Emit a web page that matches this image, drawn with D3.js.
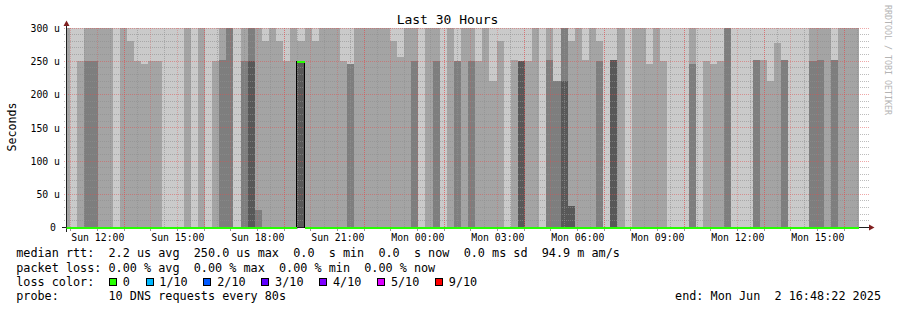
<!DOCTYPE html>
<html lang="en">
<head>
<meta charset="UTF-8">
<script src="https://cdn.jsdelivr.net/npm/d3@7"></script>
<title>Last 30 Hours</title>
<style>
  body { margin: 0; background: #fff; }
  text { font-family: "DejaVu Sans Mono", monospace; white-space: pre; fill: #000; }
</style>
</head>
<body>
<div id="chart"></div>
<script>
// time window
var tEnd = new Date(2025, 5, 2, 16, 48, 22);
var tStart = new Date(tEnd.getTime() - 30 * 3600 * 1000);
var firstStep = new Date(2025, 5, 1, 10, 41, 0);   // start of first (clipped) step
var stepSec = 960;

// sorted ping ranks per step (microseconds, axis clipped at 300)
var ping10 = [300,300,300,300,300,300,300,300,300,300,
              300,300,300,300,300,300,300,300,300,300,
              300,300,300,300,300,300,300,300,300,300,
              300,300,300,300,300,300,300,300,300,300,
              300,300,300,300,300,300,300,300,300,300,
              300,300,300,300,300,300,300,300,300,300,
              300,300,300,300,300,300,300,300,300,300,
              300,300,300,300,300,300,300,300,300,300,
              300,300,300,300,300,300,300,300,300,300,
              300,300,300,300,300,300,300,300,300,300,
              300,300,300,300,300,300,300,300,300,300,
              300,300];
var ping9 = [300,0,250,300,300,300,300,0,300,281,
             250,246,250,250,0,0,0,300,0,300,
             0,250,300,300,0,300,300,300,281,300,
             281,250,300,281,300,281,300,300,300,250,
             246,300,300,300,300,300,281,257,300,300,
             0,300,300,0,300,250,300,300,250,300,
             220,281,0,252,250,250,300,0,300,220,
             300,281,300,252,300,281,0,252,300,0,
             300,300,246,300,250,0,0,0,300,0,
             250,246,250,300,0,0,0,252,252,220,
             277,252,0,0,0,300,300,300,252,300,
             300,300];
var ping8 = [0,0,0,250,250,0,0,0,0,0,
             0,0,0,0,0,0,0,0,0,0,
             0,0,252,300,0,250,300,27,0,0,
             0,0,0,250,0,0,0,0,0,0,
             246,0,0,0,0,0,0,0,0,250,
             0,0,250,0,0,250,0,250,0,0,
             0,0,0,0,250,0,0,0,252,220,
             300,32,0,0,0,250,0,252,0,0,
             0,0,0,0,0,0,0,0,246,0,
             0,0,0,300,0,0,0,252,0,0,
             0,252,0,0,0,250,252,0,252,0,
             0,0];
var ping7 = [0,0,0,0,0,0,0,0,0,0,
             0,0,0,0,0,0,0,0,0,0,
             0,0,0,0,0,0,250,0,0,0,
             0,0,0,250,0,0,0,0,0,0,
             0,0,0,0,0,0,0,0,0,0,
             0,0,0,0,0,0,0,0,0,0,
             0,0,0,0,250,0,0,0,0,0,
             220,32,0,0,0,0,0,252,0,0,
             0,0,0,0,0,0,0,0,0,0,
             0,0,0,0,0,0,0,0,0,0,
             0,0,0,0,0,0,0,0,0,0,
             0,0];
var median = [0,0,0,0,0,0,0,0,0,0,
              0,0,0,0,0,0,0,0,0,0,
              0,0,0,0,0,0,0,0,0,0,
              0,0,0,250,0,0,0,0,0,0,
              0,0,0,0,0,0,0,0,0,0,
              0,0,0,0,0,0,0,0,0,0,
              0,0,0,0,0,0,0,0,0,0,
              0,0,0,0,0,0,0,0,0,0,
              0,0,0,0,0,0,0,0,0,0,
              0,0,0,0,0,0,0,0,0,0,
              0,0,0,0,0,0,0,0,0,0,
              0,0];
var lossCount = median.map(function () { return 0; }); // no loss anywhere

var yTickValues = [0, 50, 100, 150, 200, 250, 300];
var yTickLabels = ["0", "50 u", "100 u", "150 u", "200 u", "250 u", "300 u"];

var lossLabels = ["0", "1/10", "2/10", "3/10", "4/10", "5/10", "9/10"];
var lossColors = ["#26ff00", "#00b8ff", "#0059ff", "#5e00ff", "#7e00ff", "#dd00ff", "#ff0000"];
var lossLevels = [0, 1, 2, 3, 4, 5, 9];

var legendLines = [
  "median rtt:  2.2 us avg  250.0 us max  0.0  s min  0.0  s now  0.0 ms sd  94.9 m am/s",
  "packet loss: 0.00 % avg  0.00 % max  0.00 % min  0.00 % now",
  "loss color:",
  "probe:       10 DNS requests every 80s"
];
var endLabel = "end: Mon Jun  2 16:48:22 2025";

// ---------------------------------------------------------------
var W = 897, H = 310;
var x0 = 66, x1 = 866, yBot = 227.5, yTop = 28;

var svg = d3.select("#chart").append("svg")
  .attr("width", W).attr("height", H);

var x = d3.scaleTime().domain([tStart, tEnd]).range([x0, x1]);
var y = d3.scaleLinear().domain([0, 300]).range([yBot, yTop]);

var cols = ping10.map(function (d, i) {
  var t0 = new Date(firstStep.getTime() + i * stepSec * 1000);
  var t1 = new Date(t0.getTime() + stepSec * 1000);
  return { t0: t0, t1: t1, tops: [ping10[i], ping9[i], ping8[i], ping7[i]],
           median: median[i], loss: lossCount[i] };
});

svg.append("defs").append("clipPath").attr("id", "plot")
  .append("rect").attr("x", x0 + 0.5).attr("y", yTop).attr("width", x1 - x0).attr("height", 201);

// smoke: bands get darker towards the median
var smokeColor = [202, 164, 126, 88].map(function (c) { return d3.rgb(c, c, c).toString(); });
var smoke = svg.append("g").attr("clip-path", "url(#plot)").attr("shape-rendering", "crispEdges");
smokeColor.forEach(function (c, b) {
  smoke.append("g").selectAll("rect")
    .data(cols.filter(function (d) { return d.tops[b] > 0; }))
    .enter().append("rect")
      .attr("x", function (d) { return Math.round(x(d.t0)); })
      .attr("width", function (d) { return Math.round(x(d.t1)) - Math.round(x(d.t0)); })
      .attr("y", function (d) { return y(d.tops[b]); })
      .attr("height", function (d) { return 228 - y(d.tops[b]); })
      .attr("fill", c);
});

// grid
var gridMinor = "rgba(143,143,143,0.6)", gridMajor = "rgba(222,79,79,0.35)", gridStrong = "rgba(222,79,79,0.7)";
var grid = svg.append("g").attr("shape-rendering", "crispEdges");
var py = function (v) { return Math.floor(y(v)) + 0.5; };
var px = function (t) { return Math.round(x(t)) - 0.5; };

var minorY = d3.range(10, 300, 10).filter(function (v) { return v % 50; });
grid.selectAll(".hmin").data(minorY).enter().append("line")
  .attr("x1", x0 - 2).attr("x2", x1 + 3).attr("y1", py).attr("y2", py)
  .attr("stroke", gridMinor).attr("stroke-dasharray", "1,1");
grid.selectAll(".hmaj").data(yTickValues.slice(1)).enter().append("line")
  .attr("x1", x0 - 2).attr("x2", x1 + 3).attr("y1", py).attr("y2", py)
  .attr("stroke", "rgba(222,79,79,0.5)").attr("stroke-dasharray", "1,1");

var hours = d3.timeHour.every(1).range(tStart, tEnd);
var halfHours = d3.timeMinute.every(30).range(tStart, tEnd).filter(function (t) { return t.getMinutes() === 30; });
grid.selectAll(".vmin").data(halfHours).enter().append("line")
  .attr("x1", px).attr("x2", px).attr("y1", yTop).attr("y2", 230)
  .attr("stroke", gridMinor).attr("stroke-dasharray", "1,1");
grid.selectAll(".vmaj").data(hours).enter().append("line")
  .attr("x1", px).attr("x2", px).attr("y1", yTop).attr("y2", 231)
  .attr("stroke", function (t) { return t.getHours() % 3 === 1 ? gridStrong : gridMajor; })
  .attr("stroke-dasharray", "1,1");
// solid tick stubs outside the canvas
grid.selectAll(".tk").data(hours).enter().append("line")
  .attr("x1", px).attr("x2", px).attr("y1", 228).attr("y2", 231)
  .attr("stroke", "#999");

// axes
var axis = svg.append("g").attr("shape-rendering", "crispEdges");
axis.append("line").attr("x1", 62).attr("x2", 870).attr("y1", 227.5).attr("y2", 227.5).attr("stroke", "#1f1f1f");
axis.append("line").attr("x1", 66.5).attr("x2", 66.5).attr("y1", 232).attr("y2", 25).attr("stroke", "#1f1f1f");
svg.append("path").attr("d", "M63.5,26 L66.5,20.5 L69.5,26 Z").attr("fill", "#801f1f");
svg.append("path").attr("d", "M869,224.5 L874.5,227.5 L869,230.5 Z").attr("fill", "#801f1f");

// median line: dark step line, loss-coloured segments on top
var medLine = d3.line()
  .x(function (d) { return Math.round(x(d.t)) - 0.5; })
  .y(function (d) { return Math.floor(y(d.v)) + 0.5; })
  .curve(d3.curveStepAfter);
var medPts = cols.map(function (d) { return { t: d.t0, v: d.median }; });
medPts.push({ t: cols[cols.length - 1].t1, v: cols[cols.length - 1].median });
svg.append("g").attr("clip-path", "url(#plot)").append("path")
  .attr("d", medLine(medPts)).attr("fill", "none").attr("stroke", "#000")
  .attr("stroke-width", 1).attr("shape-rendering", "crispEdges");

var lossColor = function (n) {
  for (var k = 0; k < lossLevels.length; k++) if (n <= lossLevels[k]) return lossColors[k];
  return lossColors[lossColors.length - 1];
};
svg.append("g").attr("clip-path", "url(#plot)").attr("shape-rendering", "crispEdges")
  .selectAll("rect").data(cols).enter().append("rect")
    .attr("x", function (d) { return Math.round(x(d.t0)); })
    .attr("width", function (d) { return Math.round(x(d.t1)) - Math.round(x(d.t0)); })
    .attr("y", function (d) { return Math.floor(y(d.median)); })
    .attr("height", 2)
    .attr("fill", function (d) { return lossColor(d.loss); });

// axis labels
svg.append("g").selectAll("text").data(yTickValues).enter().append("text")
  .attr("x", function (d, i) { return i === 0 ? 56 : 60; })
  .attr("y", function (d) { return y(d) + 3.8; })
  .attr("text-anchor", "end").attr("font-size", "9.8px")
  .text(function (d, i) { return yTickLabels[i]; });

var fmt = d3.timeFormat("%a %H:%M");
svg.append("g").selectAll("text").data(d3.timeHour.every(3).range(tStart, tEnd)).enter().append("text")
  .attr("x", function (d) { return x(d); }).attr("y", 241.3)
  .attr("text-anchor", "middle").attr("font-size", "9.8px")
  .text(fmt);

svg.append("text").attr("x", 447.5).attr("y", 24).attr("text-anchor", "middle")
  .attr("font-size", "13px").text("Last 30 Hours");

svg.append("text").attr("transform", "translate(15.5,127) rotate(-90)")
  .attr("text-anchor", "middle").attr("font-size", "11.6px").text("Seconds");

svg.append("text").attr("transform", "translate(884.5,5) rotate(90)")
  .attr("font-size", "8.3px").style("fill", "#b4b4b4").text("RRDTOOL / TOBI OETIKER");

// legend
var charW = 7.1, lx = 16.2;
var rowY = [257.3, 271.6, 285.9, 300.2];
legendLines.forEach(function (s, i) {
  svg.append("text").attr("x", lx).attr("y", rowY[i]).attr("font-size", "11.8px").text(s);
});
svg.append("text").attr("x", 881).attr("y", rowY[3]).attr("text-anchor", "end")
  .attr("font-size", "11.8px").text(endLabel);

var col = 13;
var items = lossLabels.map(function (l, i) {
  var bx = lx + 0.5 + col * charW + i * 1.1;
  col += 2 + l.length + 2;
  return { label: l, color: lossColors[i], bx: bx };
});
var leg = svg.append("g").selectAll("g").data(items).enter().append("g");
leg.append("rect")
  .attr("x", function (d) { return Math.round(d.bx) + 0.5; }).attr("y", 278.5)
  .attr("width", 7).attr("height", 7)
  .attr("fill", function (d) { return d.color; }).attr("stroke", "#000")
  .attr("shape-rendering", "crispEdges");
leg.append("text")
  .attr("x", function (d) { return d.bx - 0.5 + 2 * charW; }).attr("y", rowY[2])
  .attr("font-size", "11.8px").text(function (d) { return d.label; });
</script>
</body>
</html>
